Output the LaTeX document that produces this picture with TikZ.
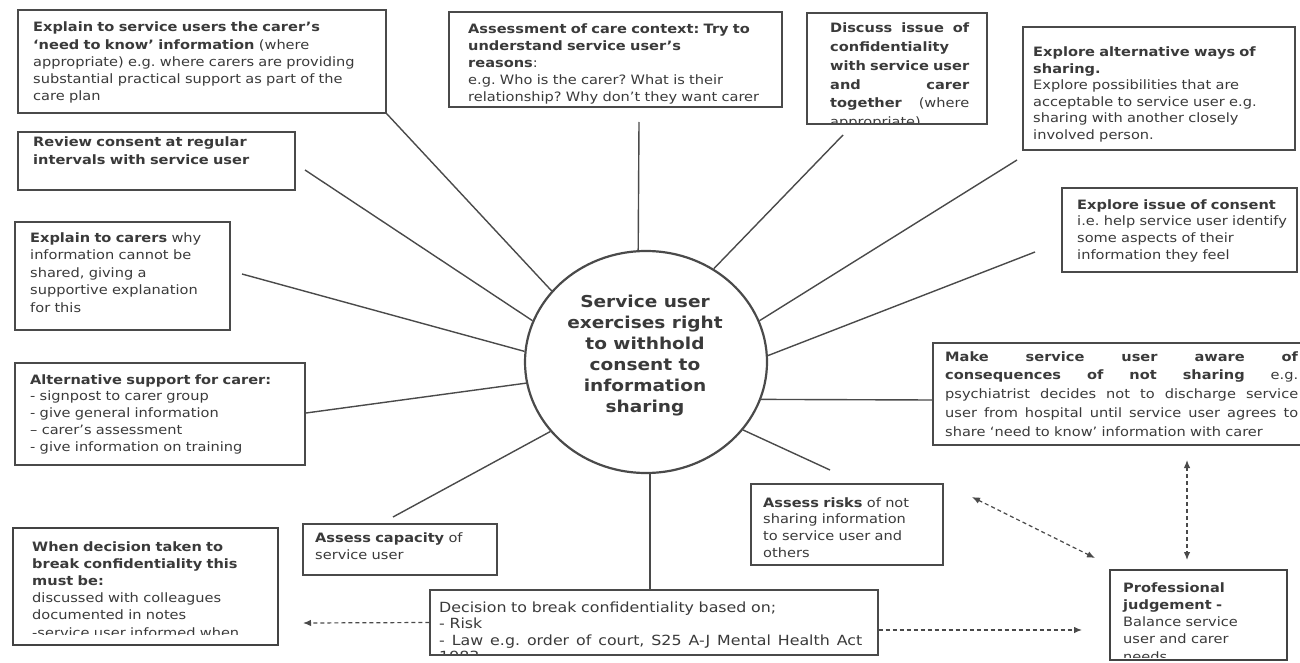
\documentclass[tikz,border=0pt]{standalone}
\usepackage{fontspec}
\setmainfont{DejaVu Sans}[FakeStretch=1.13]
\usetikzlibrary{fit,shapes.geometric,arrows.meta}
\definecolor{ink}{HTML}{3A3A3A}
\definecolor{edge}{HTML}{4A4A4A}
\frenchspacing
\newcommand\jl[1]{\leavevmode\hbox to\hsize{\spaceskip=.3em plus 1fil\xspaceskip=.3em plus 1fil\relax #1}}
\newcommand\mybx[7]{%
  \begin{scope}
    \clip (#3) rectangle (#5);
    \node[txt,#6] (#1t) {#7};
  \end{scope}
  \node[#2,fit={(#3)(#4)}] (#1) {};}
\begin{document}
\begin{tikzpicture}[x=1pt,y=-1pt,
  txt/.style={anchor=base west,inner sep=0pt,align=left,text=ink,font=\fontsize{12.9}{17.2}\selectfont},
  box/.style={draw=edge,line width=1.3pt,inner sep=0pt},
  boxthick/.style={draw=edge!90!black,line width=2.6pt,inner sep=0pt},
  link/.style={draw=edge,line width=1.4pt},
  darr/.style={draw=edge,line width=1.2pt,dash pattern=on 4pt off 3pt,-{Latex[length=8pt,width=6.5pt]}},
  ddarr/.style={draw=edge,line width=1.2pt,dash pattern=on 4pt off 3pt,{Latex[length=8pt,width=6.5pt]}-{Latex[length=8pt,width=6.5pt]}}]
\useasboundingbox (0,0) rectangle (1300,663);
\fill[white] (0,0) rectangle (1300,663);

\mybx{b1}{box}{18,10}{386,113}{386,113}{at={(33,32)},text width=360pt}{%
\textbf{Explain to service users the carer’s}\\
\textbf{‘need to know’ information} (where\\
appropriate) e.g. where carers are providing\\
substantial practical support as part of the\\
care plan}

\mybx{b2}{box}{18,132}{295,190}{295,190}{at={(33,147)},text width=260pt}{%
\textbf{Review consent at regular}\\
\textbf{intervals with service user}}

\mybx{b3}{box}{449,12}{782,107}{782,107}{at={(468,34)},text width=320pt,font=\fontsize{12.9}{16.9}\selectfont}{%
\textbf{Assessment of care context: Try to}\\
\textbf{understand service user’s}\\
\textbf{reasons}:\\
e.g. Who is the carer? What is their\\
relationship? Why don’t they want carer}

\mybx{b4}{box}{807,13}{987,124}{987,124}{at={(830,33)},text width=139pt,font=\bfseries\fontsize{12.9}{18.7}\selectfont}{%
\jl{Discuss issue of}\\
confidentiality\\
\jl{with service user}\\
\jl{and carer}\\
\jl{together \mdseries(where}\\
\mdseries appropriate)}

\mybx{b5}{box}{1023,27}{1295,150}{1295,150}{at={(1033,57)},text width=260pt,font=\fontsize{12.9}{16.5}\selectfont}{%
\textbf{Explore alternative ways of}\\
\textbf{sharing.}\\
Explore possibilities that are\\
acceptable to service user e.g.\\
sharing with another closely\\
involved person.}

\mybx{b6}{box}{1062,188}{1297,272}{1297,272}{at={(1077,209)},text width=225pt,font=\fontsize{12.9}{16.7}\selectfont}{%
\textbf{Explore issue of consent}\\
i.e. help service user identify\\
some aspects of their\\
information they feel}

\mybx{b7}{box}{933,343}{1310,445}{1310,445}{at={(945,361)},text width=353pt,font=\fontsize{12.9}{18.8}\selectfont}{%
\jl{\textbf{Make service user aware of}}\\
\jl{\textbf{consequences of not sharing} e.g.}\\
\jl{psychiatrist decides not to discharge service}\\
\jl{user from hospital until service user agrees to}\\
share ‘need to know’ information with carer}

\mybx{b8}{box}{15,222}{230,330}{230,330}{at={(30,242)},text width=200pt,font=\fontsize{12.9}{17.5}\selectfont}{%
\textbf{Explain to carers} why\\
information cannot be\\
shared, giving a\\
supportive explanation\\
for this}

\mybx{b9}{box}{15,363}{305,465}{305,465}{at={(30,384)},text width=275pt,font=\fontsize{12.9}{16.8}\selectfont}{%
\textbf{Alternative support for carer:}\\
- signpost to carer group\\
- give general information\\
– carer’s assessment\\
- give information on training}

\mybx{b10}{boxthick}{13,528}{278,645}{278,634}{at={(32,551)},text width=250pt,font=\fontsize{12.9}{17.2}\selectfont}{%
\textbf{When decision taken to}\\
\textbf{break confidentiality this}\\
\textbf{must be:}\\
discussed with colleagues\\
documented in notes\\
-service user informed when}

\mybx{b11}{box}{303,524}{497,575}{497,575}{at={(315,542)},text width=180pt}{%
\textbf{Assess capacity} of\\
service user}

\mybx{b12}{box}{430,590}{878,655}{878,655}{at={(439,612)},text width=423pt,font=\fontsize{14}{16.5}\selectfont}{%
Decision to break confidentiality based on;\\
- Risk\\
\jl{- Law e.g. order of court, S25 A-J Mental Health Act}\\
1983}

\mybx{b13}{box}{751,484}{943,565}{943,565}{at={(763,507)},text width=180pt,font=\fontsize{12.9}{16.8}\selectfont}{%
\textbf{Assess risks} of not\\
sharing information\\
to service user and\\
others}

\mybx{b14}{boxthick}{1110,570}{1287,660}{1287,657}{at={(1123,592)},text width=160pt,font=\fontsize{12.9}{17.3}\selectfont}{%
\textbf{Professional}\\
\textbf{judgement -}\\
Balance service\\
user and carer\\
needs}

% central ellipse
\node[ellipse,draw=edge,line width=2.2pt,minimum width=242pt,minimum height=222pt,inner sep=0pt] (c) at (646,362) {};
\node[align=center,text=ink,inner sep=0pt,font=\bfseries\fontsize{16.4}{21}\selectfont] (ct) at (645,356)
  {Service user\\exercises right\\to withhold\\consent to\\information\\sharing};

% connectors
\coordinate (e2) at (305,170);
\coordinate (e8) at (242,274);
\coordinate (e9) at (306,413);
\coordinate (e11) at (393,517);
\coordinate (e3) at (639,122);
\coordinate (e4) at (843,135);
\coordinate (e5) at (1017,160);
\coordinate (e6) at (1035,252);
\coordinate (e7) at (933,400);
\coordinate (e13) at (830,470);
\draw[link] (b1.south east) -- (c.143);
\draw[link] (e2) -- (c.160);
\draw[link] (e8) -- (c.175);
\draw[link] (e9) -- (c.190);
\draw[link] (e11) -- (c.216);
\draw[link] (e3) -- (c.94);
\draw[link] (e4) -- (c.54);
\draw[link] (e5) -- (c.20);
\draw[link] (e6) -- (c.3);
\draw[link] (e7) -- (c.342);
\draw[link] (e13) -- (c.325);
\draw[link] (c.272) -- (c.272 |- b12.north);

% dashed arrows
\coordinate (dl) at (303,623);
\coordinate (dr) at (1082,630);
\coordinate (da1) at (972,497);
\coordinate (da2) at (1095,558);
\coordinate (dv1) at (1187,460);
\coordinate (dv2) at (1187,560);
\draw[darr] (b12.west) -- (dl);
\draw[darr] (dr -| b12.east) -- (dr);
\draw[ddarr] (da1) -- (da2);
\draw[ddarr] (dv1) -- (dv2);
\end{tikzpicture}
\end{document}
